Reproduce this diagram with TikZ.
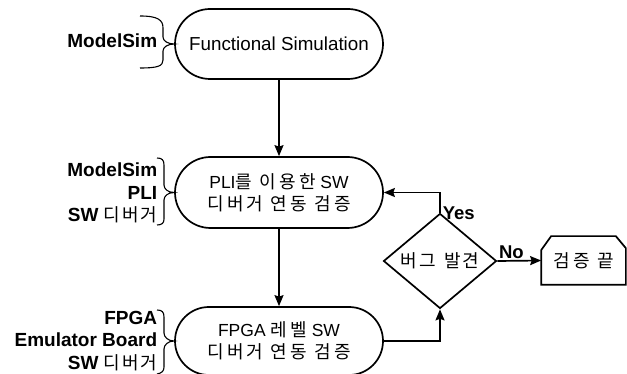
\documentclass[tikz,border=0pt]{standalone}
\usepackage{fontspec}
\setmainfont{Liberation Sans}
\newfontfamily\krfont[LetterSpace=18]{Noto Sans CJK KR}
\newfontfamily\krtight[LetterSpace=10]{Noto Sans CJK KR}
\newcommand\kor[1]{{\krfont\fontsize{18}{22}\selectfont #1}}
\newcommand\korlab[1]{{\krtight\fontsize{18}{22}\selectfont #1}}
\usetikzlibrary{shapes.misc,shapes.geometric,arrows.meta}

\begin{document}
\begin{tikzpicture}[x=1pt,y=-1pt,
  line width=1.7pt,
  every node/.style={font=\fontsize{17.5}{22}\selectfont},
  stage/.style={draw, rounded rectangle, minimum width=208pt, align=center, inner sep=0pt},
  decision/.style={draw, diamond, minimum width=113pt, minimum height=68pt, inner sep=0pt},
  finish/.style={minimum width=83pt, minimum height=47pt, inner sep=0pt},
  tool/.style={font=\fontsize{19}{22.5}\selectfont\bfseries, anchor=east, align=right, inner sep=0pt},
  tag/.style={font=\fontsize{18.5}{22}\selectfont\bfseries, inner sep=1pt},
  arr/.style={-{Stealth[length=11pt,width=9pt,inset=1.5pt]}},
  brace/.style={line width=1.1pt}
]
\fill[white] (0,0) rectangle (627,374);
\useasboundingbox (0,0) rectangle (627,374);

% main flow
\node[stage, minimum height=70pt, font=\fontsize{18.8}{22}\selectfont] (n1) at (279,44) {Functional Simulation};
\node[stage, minimum height=71pt] (n2) at (279,192.5) {PLI\kor{를 이용한} SW\\\kor{디버거 연동 검증}};
\node[stage, minimum height=68pt] (n3) at (279,341) {FPGA \kor{레벨} SW\\\kor{디버거 연동 검증}};
\node[decision] (d) at (440,261) {{\krtight\fontsize{18}{22}\selectfont 버그\hspace{3pt} 발견}};
\node[finish] (e) at (583.5,260.5) {\kor{검증 끝}};
\draw (e.south west) -- ([yshift=-14pt]e.north west) -- ([xshift=10pt]e.north west)
  -- ([xshift=-10pt]e.north east) -- ([yshift=-12pt]e.north east) -- (e.south east) -- cycle;

% connectors
\draw[arr] (n1.south) -- (n2.north);
\draw[arr] (n2.south) -- (n3.north);
\draw[arr] (n3.east) -| (d.south);
\draw[arr] (d.north) |- node[tag, pos=0.12, anchor=west, xshift=1pt, yshift=-5pt] {Yes} (n2.east);
\draw[arr] (d.east) -- node[tag, pos=0.32, anchor=south] {No} (e.west);

% tools
\node[tool] (t1) at (158,41) {ModelSim};
\node[tool] (t2) at (158,193) {ModelSim\\PLI\\SW {\mdseries\korlab{디버거}}};
\node[tool] (t3) at (158,341) {FPGA\\Emulator Board\\SW {\mdseries\korlab{디버거}}};

% braces
\draw[brace] (140,16) .. controls (158,16) and (163,20) .. (163,28) -- (163,37)
  .. controls (163,41) and (168,44) .. (n1.west)
  .. controls (168,44) and (163,47) .. (163,51) -- (163,60)
  .. controls (163,66) and (158,68) .. (140,68);
\draw[brace] (157,158) .. controls (162,158) and (164,160) .. (164,165) -- (164,185)
  .. controls (164,189) and (168,192.5) .. (n2.west)
  .. controls (168,192.5) and (164,196) .. (164,200) -- (164,219)
  .. controls (164,223) and (162,225) .. (157,225);
\draw[brace] (157,310) .. controls (162,310) and (164,312) .. (164,317) -- (164,333)
  .. controls (164,337) and (168,341) .. (n3.west)
  .. controls (168,341) and (164,345) .. (164,349) -- (164,367)
  .. controls (164,371) and (162,373) .. (157,374);
\end{tikzpicture}
\end{document}
